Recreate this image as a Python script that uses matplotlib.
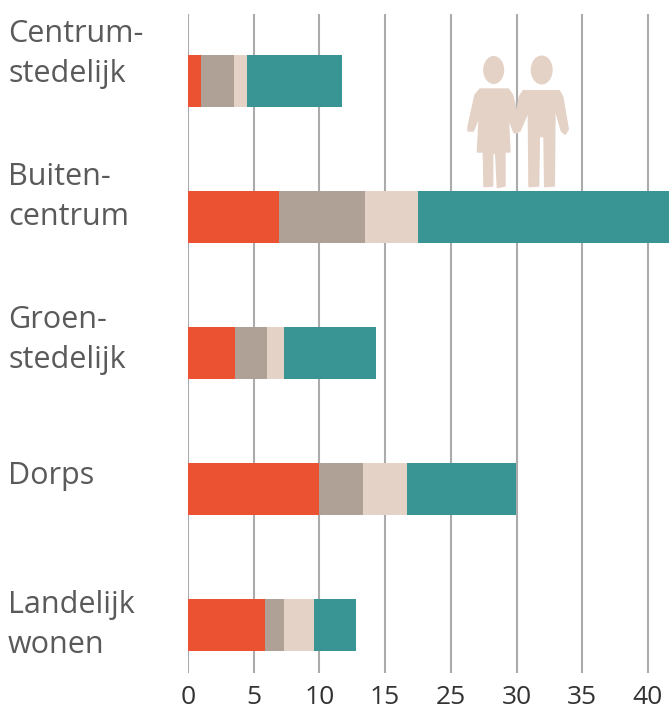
import matplotlib
matplotlib.use('Agg')
import matplotlib.pyplot as plt
from matplotlib.patches import Ellipse, Polygon
import numpy as np

# the tick labels really do skip 20 in the original
tick_labels = ['0', '5', '10', '15', '25', '30', '35', '40']
categories = ['Centrum-\nstedelijk', 'Buiten-\ncentrum', 'Groen-\nstedelijk', 'Dorps', 'Landelijk\nwonen']
label_y = [54, 197, 340, 476, 625]

# values in axis units (one gridline = 5)
red = [1.0, 6.9, 3.6, 10.0, 5.85]
taupe = [2.5, 6.6, 2.4, 3.35, 1.45]
sand = [1.0, 4.0, 1.3, 3.35, 2.3]
teal = [7.2, 19.1, 7.0, 8.25, 3.2]
segments = [red, taupe, sand, teal]
colors = ['#EA5232', '#B0A197', '#E5D2C6', '#389594']

# icon outlines, in crop coordinates of the picture
woman = [(120, 177), (205, 177), (218, 195), (238, 280), (233, 308), (222, 308), (205, 265),
         (210, 366), (195, 366), (195, 468), (172, 473), (167, 370), (158, 370), (158, 468),
         (132, 470), (130, 366), (112, 366), (118, 260), (100, 303), (84, 303), (84, 290), (105, 195)]
man = [(250, 182), (358, 182), (368, 200), (385, 298), (375, 313), (364, 303), (345, 235),
       (343, 468), (314, 470), (312, 320), (298, 320), (296, 468), (267, 470), (265, 245),
       (240, 303), (227, 308), (224, 280), (238, 200)]

W, H = 669, 715
plt.rcParams['font.family'] = ['Open Sans', 'DejaVu Sans']

fig = plt.figure(figsize=(W / 100, H / 100), dpi=100)
ax = fig.add_axes([188 / W, 1 - 673 / H, (W - 188) / W, (673 - 14) / H])

y = np.arange(len(categories))
left = np.zeros(len(categories))
for vals, c in zip(segments, colors):
    ax.barh(y, vals, left=left, height=0.385, color=c, zorder=3)
    left += np.array(vals)

ax.set_xlim(0, (W - 188) / 13.14)
ax.set_ylim(4 + 48 / 136, -67 / 136)
ax.set_xticks(np.arange(len(tick_labels)) * 5)
ax.set_xticklabels(tick_labels, fontsize=19, color='#333333')
ax.set_yticks([])
ax.grid(axis='x', color='#ABABAB', linewidth=1.5, zorder=0)
ax.tick_params(axis='x', length=0, pad=9)
for s in ax.spines.values():
    s.set_visible(False)

# overlay in pixel coordinates for the labels and the icon
ov = fig.add_axes([0, 0, 1, 1], facecolor='none')
ov.set_xlim(0, W)
ov.set_ylim(H, 0)
ov.axis('off')
for name, ly in zip(categories, label_y):
    ov.text(8, ly, name, fontsize=22, color='#5A5A5A', va='center', ha='left', linespacing=1.45)

def crop(p):
    return [(440 + a / 3, 30 + b / 3) for a, b in p]

icon = '#E5D2C6'
for shape in (woman, man):
    ov.add_patch(Polygon(crop(shape), closed=True, facecolor=icon, edgecolor=icon, lw=1,
                         joinstyle='round', zorder=5))
ov.add_patch(Ellipse((493.7, 70), 21, 28, color=icon, lw=0, zorder=5))
ov.add_patch(Ellipse((541.7, 70), 22, 29, color=icon, lw=0, zorder=5))

fig.savefig('out.png', dpi=100)
